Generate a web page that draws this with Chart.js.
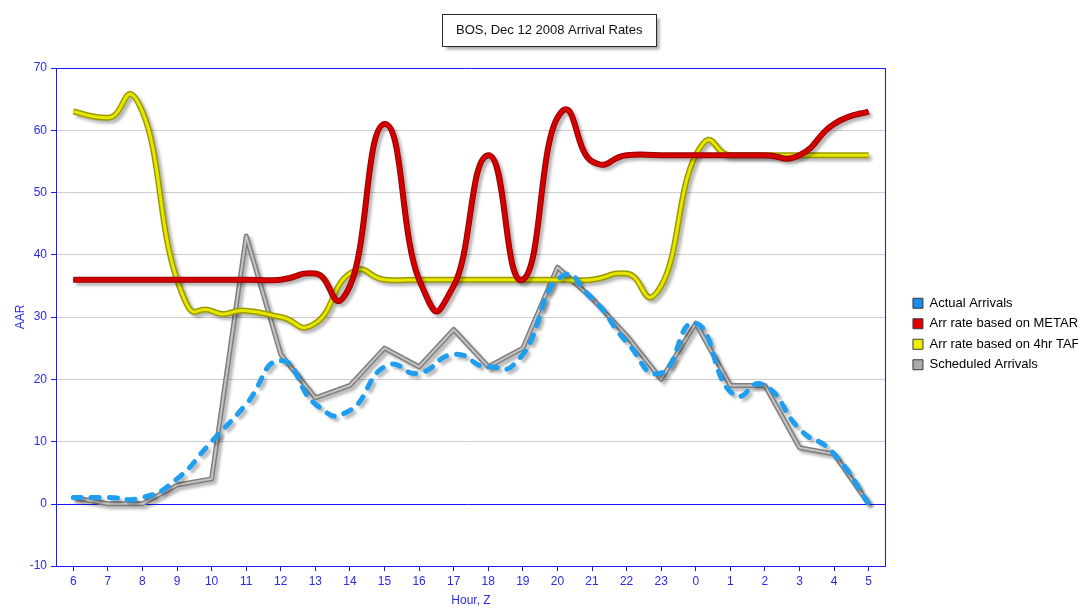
<!DOCTYPE html>
<html>
<head>
<meta charset="utf-8">
<title>BOS, Dec 12 2008 Arrival Rates</title>
<script src="https://cdn.jsdelivr.net/npm/chart.js@4.4.1/dist/chart.umd.min.js"></script>
<style>
  html, body { margin: 0; padding: 0; background: #ffffff; overflow: hidden; }
  #wrap { width: 1100px; height: 608px; }
  canvas { display: block; }
</style>
</head>
<body>
<div id="wrap"><canvas id="chart" width="1100" height="608"></canvas></div>
<script>
// Hour of day (Zulu) for each sample
const hours = ['6','7','8','9','10','11','12','13','14','15','16','17','18','19','20','21','22','23','0','1','2','3','4','5'];

// Arrivals per hour
const actualArrivals    = [1, 1, 1, 4, 10, 16, 23, 16, 15, 22, 21, 24, 22, 24, 36, 33, 26, 21, 29, 18, 19, 12, 8, 0];
const metarRate         = [36, 36, 36, 36, 36, 36, 36, 37, 35, 61, 36, 35, 56, 36, 62, 55, 56, 56, 56, 56, 56, 56, 61, 63];
const tafRate           = [63, 62, 63, 36, 31, 31, 30, 29, 37, 36, 36, 36, 36, 36, 36, 36, 37, 35, 56, 56, 56, 56, 56, 56];
const scheduledArrivals = [1, 0, 0, 3, 4, 43, 24, 17, 19, 25, 22, 28, 22, 25, 38, 33, 27, 20, 29, 19, 19, 9, 8, 0];

// Y axis range
const yMin = -10, yMax = 70, yStep = 10;

const AXIS_BLUE = '#2b2be6';
const EDGE_BLUE = '#1a1aff';

Chart.defaults.font.family = "'Liberation Sans', Arial, sans-serif";
Chart.defaults.font.size = 12;

// Cardinal spline (tension as in GDI+ curves) on top of Chart.js' bezier line drawing,
// plus a soft drop shadow under the series that ask for it.
const seriesStyle = {
  id: 'seriesStyle',
  beforeDatasetDraw(chart, args) {
    const ds = chart.data.datasets[args.index];
    const meta = args.meta;
    if (ds.curveTension) {
      meta.dataset.updateControlPoints(chart.chartArea, meta.iScale.axis);
      const pts = meta.data;
      const n = pts.length;
      const k = ds.curveTension / 3;
      for (let i = 0; i < n; i++) {
        const p = pts[i];
        const prev = pts[Math.max(i - 1, 0)];
        const next = pts[Math.min(i + 1, n - 1)];
        const dx = (next.x - prev.x) * k;
        const dy = (next.y - prev.y) * k;
        p.cp1x = p.x - dx; p.cp1y = p.y - dy;
        p.cp2x = p.x + dx; p.cp2y = p.y + dy;
      }
    }
    const ctx = chart.ctx;
    ctx.save();
    if (ds.shadow) {
      ctx.shadowColor = 'rgba(0,0,0,0.28)';
      ctx.shadowBlur = 3;
      ctx.shadowOffsetX = 3;
      ctx.shadowOffsetY = 3;
    }
  },
  afterDatasetDraw(chart) {
    chart.ctx.restore();
  }
};

// Blue zero line across the plot, with its tick, under the series
const zeroLine = {
  id: 'zeroLine',
  beforeDatasetsDraw(chart) {
    const y = chart.scales.y;
    const area = chart.chartArea;
    const py = Math.round(y.getPixelForValue(0)) + 0.5;
    const ctx = chart.ctx;
    ctx.save();
    ctx.strokeStyle = EDGE_BLUE;
    ctx.lineWidth = 1;
    ctx.beginPath();
    ctx.moveTo(area.left - 5, py);
    ctx.lineTo(area.right, py);
    ctx.stroke();
    ctx.restore();
  }
};

// Framed box with a drop shadow behind the chart title
const titleFrame = {
  id: 'titleFrame',
  beforeDraw(chart) {
    const tb = chart.titleBlock;
    if (!tb) return;
    const opts = chart.options.plugins.title;
    const font = Chart.helpers.toFont(opts.font);
    const pad = Chart.helpers.toPadding(opts.padding);
    const ctx = chart.ctx;
    ctx.save();
    ctx.font = font.string;
    const w = Math.round(ctx.measureText(opts.text).width + 28);
    const h = 32;
    const cx = (tb.left + tb.right) / 2;
    const cy = tb.top + pad.top + font.lineHeight / 2;
    const x = Math.round(cx - w / 2) + 0.5;
    const y = Math.round(cy - h / 2) + 0.5;
    ctx.shadowColor = 'rgba(0,0,0,0.35)';
    ctx.shadowBlur = 3;
    ctx.shadowOffsetX = 3;
    ctx.shadowOffsetY = 3;
    ctx.fillStyle = '#ffffff';
    ctx.fillRect(x, y, w, h);
    ctx.shadowColor = 'transparent';
    ctx.strokeStyle = '#2a2a2a';
    ctx.lineWidth = 1;
    ctx.strokeRect(x, y, w, h);
    ctx.restore();
  }
};

const common = { fill: false, pointRadius: 0, pointHoverRadius: 0, borderJoinStyle: 'round' };

new Chart(document.getElementById('chart'), {
  type: 'line',
  data: {
    labels: hours,
    datasets: [
      Object.assign({}, common, {
        label: 'Actual Arrivals', data: actualArrivals,
        borderColor: '#1f9ef0', borderWidth: 5, borderDash: [8, 10], borderCapStyle: 'round',
        tension: 0.4, curveTension: 0.8, shadow: true, legendColor: '#1a8ce8', order: 0
      }),
      Object.assign({}, common, {
        label: 'Arr rate based on METAR', data: metarRate,
        borderColor: '#d40000', borderWidth: 4,
        tension: 0.4, curveTension: 0.8, legendColor: '#e00000', order: 2
      }),
      Object.assign({}, common, {
        label: 'Arr rate based on 4hr TAF', data: tafRate,
        borderColor: '#e6e600', borderWidth: 3,
        tension: 0.4, curveTension: 0.8, legendColor: '#eeee00', order: 4
      }),
      Object.assign({}, common, {
        label: 'Scheduled Arrivals', data: scheduledArrivals,
        borderColor: '#c4c4c4', borderWidth: 2,
        tension: 0, legendColor: '#ababab', order: 6
      }),
      // darker outlines beneath the series
      Object.assign({}, common, {
        label: '', underlay: true, data: metarRate,
        borderColor: '#980000', borderWidth: 6,
        tension: 0.4, curveTension: 0.8, shadow: true, order: 3
      }),
      Object.assign({}, common, {
        label: '', underlay: true, data: tafRate,
        borderColor: '#9a9a00', borderWidth: 6,
        tension: 0.4, curveTension: 0.8, shadow: true, order: 5
      }),
      Object.assign({}, common, {
        label: '', underlay: true, data: scheduledArrivals,
        borderColor: '#7e7e7e', borderWidth: 5,
        tension: 0, shadow: true, order: 7
      })
    ]
  },
  options: {
    responsive: false,
    animation: false,
    events: [],
    layout: { padding: { left: 9, right: 10.5, top: 0, bottom: 0 } },
    plugins: {
      title: {
        display: true,
        text: 'BOS, Dec 12 2008 Arrival Rates',
        color: '#111111',
        font: { size: 13, weight: 'normal' },
        padding: { top: 22.2, bottom: 30.2 }
      },
      legend: {
        display: true,
        position: 'right',
        align: 'center',
        maxWidth: 300,
        title: { display: true, text: '', font: { size: 10 }, padding: { top: 48, bottom: 0 } },
        labels: {
          boxWidth: 10,
          boxHeight: 10,
          padding: 7.5,
          color: '#000000',
          font: { size: 13 },
          generateLabels(chart) {
            return chart.data.datasets.map((ds, i) => ({
              text: ds.label,
              fillStyle: ds.legendColor,
              strokeStyle: '#3a3a3a',
              lineWidth: 1,
              lineDash: [],
              hidden: false,
              datasetIndex: i,
              fontColor: '#000000'
            }));
          },
          filter: (item, data) => !data.datasets[item.datasetIndex].underlay
        }
      },
      tooltip: { enabled: false }
    },
    scales: {
      x: {
        type: 'category',
        offset: true,
        afterFit(scale) { scale.height = 42; },
        grid: {
          offset: false,
          drawOnChartArea: false,
          drawTicks: true,
          tickLength: 5,
          tickColor: EDGE_BLUE
        },
        border: { display: true, color: EDGE_BLUE, width: 1 },
        ticks: { color: AXIS_BLUE, font: { size: 12 }, padding: 3, maxRotation: 0, autoSkip: false },
        title: { display: true, text: 'Hour, Z', color: AXIS_BLUE, font: { size: 12 }, padding: { top: 0, bottom: 0 } }
      },
      y: {
        min: yMin,
        max: yMax,
        afterFit(scale) { scale.width = 47; },
        grid: {
          drawTicks: true,
          tickLength: 5,
          tickColor: EDGE_BLUE,
          lineWidth: (c) => (c.tick && c.tick.value === 0) ? 0 : 1,
          color: (c) => (c.tick && c.tick.value === yMax) ? EDGE_BLUE : '#cdcdcd'
        },
        border: { display: true, color: EDGE_BLUE, width: 1 },
        ticks: { stepSize: yStep, color: AXIS_BLUE, font: { size: 12 }, padding: 4 },
        title: { display: true, text: 'AAR', color: AXIS_BLUE, font: { size: 12 }, padding: { top: 4, bottom: 0 } }
      },
      yRight: {
        type: 'linear',
        position: 'right',
        afterFit(scale) { scale.width = 19.5; },
        grid: { display: false, drawOnChartArea: false, drawTicks: false },
        border: { display: true, color: EDGE_BLUE, width: 1 },
        ticks: { display: false }
      }
    }
  },
  plugins: [seriesStyle, zeroLine, titleFrame]
});
</script>
</body>
</html>
